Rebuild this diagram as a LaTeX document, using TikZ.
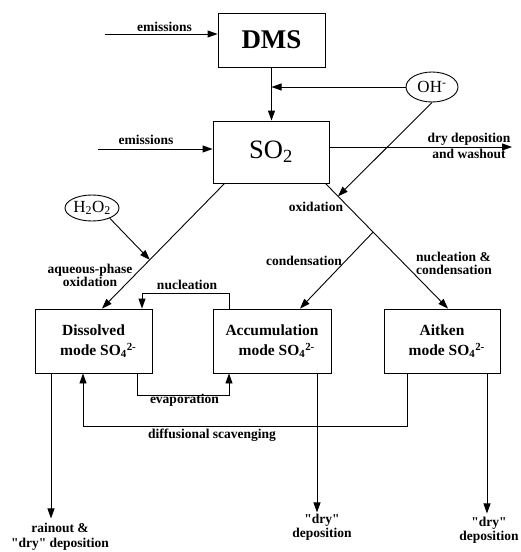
\documentclass[tikz,border=0pt]{standalone}
\usepackage{fontspec}
\setmainfont{Liberation Serif}[Ligatures=TeXOff]
\usetikzlibrary{arrows.meta,shapes.geometric,calc}
\begin{document}
\begin{tikzpicture}[x=1pt,y=-1pt,
  box/.style={draw,line width=0.9pt,rectangle,inner sep=0pt},
  blob/.style={draw,line width=0.9pt,ellipse,inner sep=0pt},
  lbl/.style={font=\bfseries\fontsize{13.5}{13}\selectfont,inner sep=0pt,align=center},
  conn/.style={line width=0.9pt,-{Triangle[length=10pt,width=7pt]}},
  modebox/.style={box,minimum height=64pt,font=\bfseries\fontsize{15.5}{20}\selectfont,align=center}]
\useasboundingbox (0,0) rectangle (520,552);
\fill[white] (0,0) rectangle (520,552);
% boxes
\node[box,minimum width=107pt,minimum height=54pt,font=\bfseries\fontsize{27}{30}\selectfont] (dms) at (271.5,40) {DMS};
\node[box,minimum width=116pt,minimum height=62pt,font=\fontsize{26.5}{30}\selectfont] (so2) at (271,152) {SO\textsubscript{2}};
\node[blob,minimum width=52pt,minimum height=30pt,font=\fontsize{17}{18}\selectfont] (oh) at (432,87) {OH\textsuperscript{-}};
\node[blob,minimum width=54pt,minimum height=26pt,font=\fontsize{17}{18}\selectfont] (h2o2) at (92,208) {H\textsubscript{2}O\textsubscript{2}};
\node[modebox,minimum width=117pt] (dis) at (93.5,341) {Dissolved\\mode SO\textsubscript{4}\rlap{\textsuperscript{2-}}};
\node[modebox,minimum width=118pt] (acc) at (272,341) {Accumulation\\mode SO\textsubscript{4}\rlap{\textsuperscript{2-}}};
\node[modebox,minimum width=116pt] (ait) at (442,341) {Aitken\\mode SO\textsubscript{4}\rlap{\textsuperscript{2-}}};
% top inputs
\coordinate (e1) at (105,34);
\draw[conn] (e1) -- (e1 -| dms.west);
\node[lbl] (l1) at (164.5,27) {emissions};
\draw[conn] (dms.south) -- (dms.south |- so2.north);
\draw[conn] (oh.west) -- (oh.west -| dms.south);
\coordinate (e2) at (98,149);
\draw[conn] (e2) -- (e2 -| so2.west);
\node[lbl] (l2) at (146,140) {emissions};
\coordinate (d1) at (512,147);
\draw[conn] (d1 -| so2.east) -- (d1);
\node[lbl,font=\bfseries\fontsize{13.5}{16}\selectfont] (l3) at (469,146) {dry deposition\\and washout};
% diagonals
\coordinate (sr) at ($(so2.south east)+(-4,0)$);
\coordinate (sl) at ($(so2.south west)+(12,0)$);
\coordinate (br) at (373,232.2);
\coordinate (ox) at (338,196.3);
\coordinate (dtop) at ($(dis.north)+(8.5,0)$);
\draw[conn] (sr) -- ($(ait.north)+(6,0)$);
\draw[conn] (br) -- ($(acc.north)+(28,0)$);
\draw[conn] (oh.south) -- (ox);
\draw[conn] (sl) -- (dtop);
\draw[conn] (h2o2.-30) -- ($(sl)!0.61!(dtop)$);
\node[lbl] (l4) at (316,207) {oxidation};
\node[lbl] (l5) at (304,261) {condensation};
\node[lbl,align=left,anchor=west] (l6) at (416,263.5) {nucleation \&\\condensation};
\node[lbl] (l7) at (90,275.5) {aqueous-phase\\oxidation};
% exchanges
\draw[conn] ($(acc.north)+(-43,0)$) -- ++(0,-15) -| ($(dis.north)+(48.5,0)$);
\node[lbl] (l8) at (187,285) {nucleation};
\draw[conn] ($(dis.south)+(43.5,0)$) -- ++(0,22) -| ($(acc.south)+(-43,0)$);
\node[lbl] (l9) at (184.5,400) {evaporation};
\draw[conn] ($(ait.south)+(-35,0)$) -- ++(0,53) -| ($(dis.south)+(-10.5,0)$);
\node[lbl] (l10) at (212,435) {diffusional scavenging};
% depositions
\draw[conn] ($(dis.south)+(-42.5,0)$) -- ++(0,145);
\draw[conn] ($(acc.south)+(45,0)$) -- ++(0,139);
\draw[conn] ($(ait.south)+(45,0)$) -- ++(0,140);
\node[lbl,font=\bfseries\fontsize{13.5}{15}\selectfont] (l11) at (60,536.5) {rainout \&\\"dry" deposition};
\node[lbl,font=\bfseries\fontsize{13.5}{14}\selectfont] (l12) at (322,527) {"dry"\\deposition};
\node[lbl,font=\bfseries\fontsize{13.5}{14}\selectfont] (l13) at (489,530) {"dry"\\deposition};
\end{tikzpicture}
\end{document}
